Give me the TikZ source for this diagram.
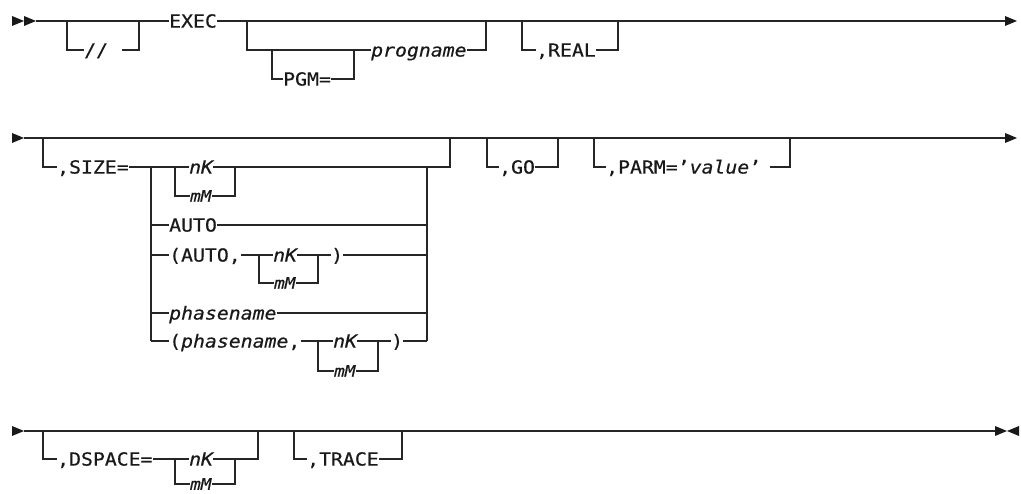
\documentclass[tikz,border=0pt]{standalone}
\usepackage{fontspec}
\newfontfamily\rrfont[FakeStretch=1.1,FakeBold=0.5]{DejaVu Sans Mono}
\tikzset{
  rail/.style={line width=1.25pt, draw=black!85, line cap=butt},
  kw/.style={font=\rrfont\fontsize{18pt}{18pt}\selectfont, inner sep=0pt,
             text height=13.1pt, text depth=0pt, anchor=west, text=black!90},
  var/.style={kw, font=\rrfont\itshape\fontsize{18pt}{18pt}\selectfont},
  smallvar/.style={kw, text height=11.5pt,
             font=\rrfont\itshape\fontsize{16pt}{16pt}\selectfont},
  tipfill/.style={fill=black!90},
}
\begin{document}
\begin{tikzpicture}[x=1pt,y=-1pt]
\useasboundingbox (0,0) rectangle (1021,494);

% ---------------- first line ----------------
\coordinate (r1s) at (12,21);
\coordinate (r1m) at (24,21);
\coordinate (r1a) at (36,21);
\coordinate (r1e) at (1005,21);
\fill[tipfill] (r1s) ++(0,-5) -- ++(12,5) -- ++(-12,5) -- cycle;
\fill[tipfill] (r1m) ++(0,-5) -- ++(12,5) -- ++(-12,5) -- cycle;
\fill[tipfill] (r1e) ++(0,-5) -- ++(12,5) -- ++(-12,5) -- cycle;

\node[kw] (exec) at (169,21) {EXEC};
\draw[rail] (r1a) -- (exec.west);
\draw[rail] (exec.east) -- (r1e);

% optional //
\coordinate (sl1) at (67,21);
\coordinate (sl2) at (139,21);
\coordinate (sl3) at (122,50);
\node[kw] (slash) at (84,50) {//};
\draw[rail] (sl1) |- (slash.west);
\draw[rail] (sl3) -| (sl2);

% optional [PGM=]progname
\coordinate (g1) at (247,21);
\coordinate (g2) at (486,21);
\node[var] (prog) at (371,50) {progname};
\draw[rail] (g1) |- (prog.west);
\draw[rail] (prog.east) -| (g2);
\coordinate (p1) at (272,50);
\coordinate (p2) at (354,50);
\node[kw] (pgm) at (283,79) {PGM=};
\draw[rail] (p1) |- (pgm.west);
\draw[rail] (pgm.east) -| (p2);

% optional ,REAL
\coordinate (re1) at (522,21);
\coordinate (re2) at (618,21);
\node[kw] (real) at (536,50) {,REAL};
\draw[rail] (re1) |- (real.west);
\draw[rail] (real.east) -| (re2);

% ---------------- second line ----------------
\coordinate (r2s) at (12,138);
\coordinate (r2a) at (24,138);
\coordinate (r2e) at (1005,138);
\fill[tipfill] (r2s) ++(0,-5) -- ++(12,5) -- ++(-12,5) -- cycle;
\fill[tipfill] (r2e) ++(0,-5) -- ++(12,5) -- ++(-12,5) -- cycle;
\draw[rail] (r2a) -- (r2e);

% optional ,SIZE=
\coordinate (sz1) at (43,138);
\coordinate (sz2) at (450,138);
\node[kw] (size) at (57,167) {,SIZE=};
\draw[rail] (sz1) |- (size.west);
\coordinate (L1) at (151,167);
\coordinate (L6) at (151,341);
\coordinate (R1) at (427,167);
\coordinate (R6) at (427,341);
\draw[rail] (L1) -- (L6);
\draw[rail] (R1) -- (R6);

% nK / mM
\coordinate (ka) at (175,167);
\coordinate (kb) at (235,167);
\node[var] (nkA) at (189,167) {nK};
\node[smallvar] (mmA) at (190,196) {mM};
\draw[rail] (size.east) -- (nkA.west);
\draw[rail] (ka) |- (mmA.west);
\draw[rail] (mmA.east) -| (kb);
\draw[rail] (nkA.east) -| (sz2);

% AUTO
\node[kw] (auto) at (169,225) {AUTO};
\draw[rail] (auto.west -| L1) -- (auto.west);
\draw[rail] (auto.east) -- (auto.east -| R1);

% (AUTO,nK|mM)
\node[kw] (pa) at (169,255) {(AUTO,};
\coordinate (pa1) at (259,255);
\coordinate (pa2) at (318,255);
\node[var] (nkB) at (273,255) {nK};
\node[smallvar] (mmB) at (274,283) {mM};
\node[kw] (pac) at (331,255) {)};
\draw[rail] (pa.west -| L1) -- (pa.west);
\draw[rail] (pa.east) -- (nkB.west);
\draw[rail] (pa1) |- (mmB.west);
\draw[rail] (mmB.east) -| (pa2);
\draw[rail] (nkB.east) -- (pac.west);
\draw[rail] (pac.east) -- (pac.east -| R1);

% phasename
\node[var] (ph) at (169,313) {phasename};
\draw[rail] (ph.west -| L1) -- (ph.west);
\draw[rail] (ph.east) -- (ph.east -| R1);

% (phasename,nK|mM)
\node[kw] (pp) at (169,341) {(\textit{phasename},};
\coordinate (pp1) at (318,341);
\coordinate (pp2) at (378,341);
\node[var] (nkC) at (333,341) {nK};
\node[smallvar] (mmC) at (334,371) {mM};
\node[kw] (ppc) at (391,341) {)};
\draw[rail] (L6) -- (pp.west);
\draw[rail] (pp.east) -- (nkC.west);
\draw[rail] (pp1) |- (mmC.west);
\draw[rail] (mmC.east) -| (pp2);
\draw[rail] (nkC.east) -- (ppc.west);
\draw[rail] (ppc.east) -- (R6);

% optional ,GO
\coordinate (go1) at (487,138);
\coordinate (go2) at (558,138);
\node[kw] (go) at (499,167) {,GO};
\draw[rail] (go1) |- (go.west);
\draw[rail] (go.east) -| (go2);

% optional ,PARM='value'
\coordinate (pm1) at (594,138);
\coordinate (pm2) at (790,138);
\coordinate (pm3) at (770,167);
\node[kw] (parm) at (606,167) {,PARM=’\textit{value}’};
\draw[rail] (pm1) |- (parm.west);
\draw[rail] (pm3) -| (pm2);

% ---------------- third line ----------------
\coordinate (r3s) at (12,431);
\coordinate (r3a) at (24,431);
\coordinate (r3e) at (995,431);
\coordinate (r3f) at (1019,431);
\fill[tipfill] (r3s) ++(0,-5) -- ++(12,5) -- ++(-12,5) -- cycle;
\fill[tipfill] (r3e) ++(0,-5) -- ++(12,5) -- ++(-12,5) -- cycle;
\fill[tipfill] (r3f) ++(0,-5) -- ++(-12,5) -- ++(12,5) -- cycle;
\draw[rail] (r3a) -- (r3e);

% optional ,DSPACE=nK|mM
\coordinate (ds1) at (43,431);
\coordinate (ds2) at (258,431);
\node[kw] (ds) at (57,459) {,DSPACE=};
\coordinate (dk1) at (175,459);
\coordinate (dk2) at (235,459);
\node[var] (nkD) at (189,459) {nK};
\node[smallvar] (mmD) at (190,484) {mM};
\draw[rail] (ds1) |- (ds.west);
\draw[rail] (ds.east) -- (nkD.west);
\draw[rail] (dk1) |- (mmD.west);
\draw[rail] (mmD.east) -| (dk2);
\draw[rail] (nkD.east) -| (ds2);

% optional ,TRACE
\coordinate (tr1) at (294,431);
\coordinate (tr2) at (402,431);
\node[kw] (tr) at (307,459) {,TRACE};
\draw[rail] (tr1) |- (tr.west);
\draw[rail] (tr.east) -| (tr2);
\end{tikzpicture}
\end{document}
